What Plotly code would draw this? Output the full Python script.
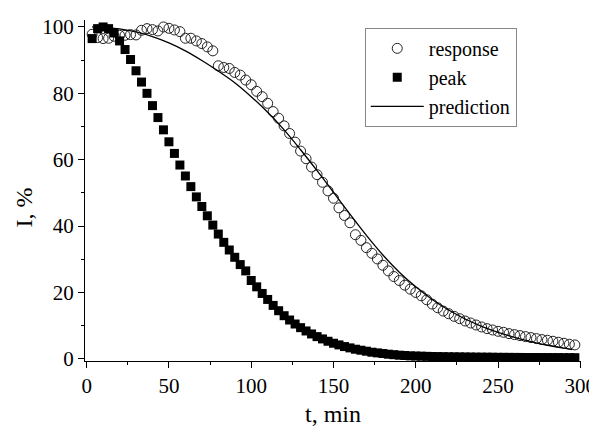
import plotly.graph_objects as go

# time grid (min), points every 200 s
t_points = [round(k * 10 / 3, 2) for k in range(1, 90)]

response = [97.8, 96.8, 96.5, 96.6, 97.2, 97.5, 97.5, 97.7, 97.6, 99.0,
            99.5, 99.2, 98.8, 100.0, 99.6, 99.1, 98.6, 96.6, 96.6, 95.8,
            95.0, 94.0, 92.8, 88.3, 87.8, 87.5, 86.3, 85.5, 84.0, 82.6,
            80.6, 79.0, 77.0, 74.5, 72.5, 70.2, 67.9, 65.3, 62.6, 60.3,
            57.8, 55.5, 53.2, 50.6, 48.4, 45.5, 43.2, 41.0, 37.4, 35.7,
            33.5, 31.8, 30.1, 28.2, 26.5, 24.8, 23.6, 22.2, 21.0, 20.0,
            19.0, 17.8, 16.5, 15.4, 14.4, 13.6, 12.8, 12.1, 11.4, 10.8,
            10.2, 9.6, 9.1, 8.7, 8.3, 8.0, 7.6, 7.3, 7.0, 6.7,
            6.4, 6.1, 5.8, 5.6, 5.3, 5.0, 4.7, 4.4, 4.2]

peak = [96.5, 99.5, 100.0, 99.5, 98.2, 95.8, 93.2, 90.2, 86.8, 83.4,
        80.0, 76.3, 72.7, 69.0, 65.4, 61.9, 58.4, 55.1, 51.9, 48.8,
        45.9, 43.1, 40.3, 37.6, 35.1, 32.8, 30.6, 28.4, 26.5, 23.6,
        21.7, 19.7, 17.9, 16.1, 14.5, 13.0, 11.7, 10.5, 9.4, 8.4,
        7.5, 6.7, 6.0, 5.3, 4.7, 4.2, 3.7, 3.3, 2.9, 2.6,
        2.3, 2.0, 1.8, 1.6, 1.4, 1.25, 1.1, 1.0, 0.9, 0.85,
        0.8, 0.75, 0.7, 0.68, 0.65, 0.62, 0.6, 0.58, 0.56, 0.54,
        0.52, 0.5, 0.5, 0.48, 0.46, 0.45, 0.44, 0.43, 0.42, 0.41,
        0.4, 0.4, 0.39, 0.38, 0.38, 0.37, 0.36, 0.36, 0.35]

t_pred = [3.3, 10, 20, 30, 40, 50, 60, 70, 80, 90, 100, 110, 120, 130, 140,
          150, 160, 170, 180, 190, 200, 210, 220, 230, 240, 250, 260, 270,
          280, 290, 295]
prediction = [100.0, 99.9, 99.4, 98.5, 97.1, 95.2, 92.8, 89.9, 86.7, 83.2,
              79.0, 74.3, 69.0, 63.0, 56.7, 50.2, 43.6, 37.2, 31.3, 26.1,
              21.7, 17.9, 14.7, 12.0, 9.8, 8.0, 6.5, 5.2, 4.1, 3.2, 2.8]

x_ticks = [0, 50, 100, 150, 200, 250, 300]
y_ticks = [0, 20, 40, 60, 80, 100]

FONT = "Liberation Serif"

fig = go.Figure()
fig.add_trace(go.Scatter(
    x=t_points, y=response, mode="markers", name="response",
    marker=dict(symbol="circle-open", size=10, color="#222",
                line=dict(width=1, color="#222"))))
fig.add_trace(go.Scatter(
    x=t_points, y=peak, mode="markers", name="peak",
    marker=dict(symbol="square", size=9, color="black",
                line=dict(width=0))))
fig.add_trace(go.Scatter(
    x=t_pred, y=prediction, mode="lines", name="prediction",
    line=dict(color="black", width=1.3, shape="spline")))

fig.update_layout(
    width=597, height=430,
    margin=dict(l=77, r=24, t=7, b=77),
    paper_bgcolor="white", plot_bgcolor="white",
    font=dict(family=FONT, color="black"),
    showlegend=True,
    legend=dict(x=0.564, y=0.977, xanchor="left", yanchor="top",
                bgcolor="white", bordercolor="#888", borderwidth=1,
                font=dict(size=20, family=FONT), itemwidth=53,
                tracegroupgap=0),
    xaxis=dict(range=[-1, 300.4], tickvals=x_ticks, ticks="outside",
               ticklen=6, tickwidth=1, tickcolor="black",
               showline=True, linecolor="black", linewidth=1.3,
               showgrid=False, zeroline=False,
               tickfont=dict(size=21, family=FONT),
               minor=dict(tickvals=[25, 75, 125, 175, 225, 275],
                          ticks="outside", ticklen=3, tickcolor="black")),
    yaxis=dict(range=[-0.65, 102.1], tickvals=y_ticks, ticks="outside",
               ticklen=6, tickwidth=1, tickcolor="black",
               showline=True, linecolor="black", linewidth=1.3,
               showgrid=False, zeroline=False,
               tickfont=dict(size=21, family=FONT),
               minor=dict(tickvals=[10, 30, 50, 70, 90],
                          ticks="outside", ticklen=3, tickcolor="black")),
    annotations=[
        dict(text="t, min", xref="paper", yref="paper", x=0.5, y=0,
             xanchor="center", yanchor="middle", yshift=-53,
             showarrow=False, font=dict(size=24, family=FONT)),
        dict(text="I, %", xref="paper", yref="paper", x=0, y=0.45,
             xanchor="center", yanchor="middle", xshift=-61, textangle=-90,
             showarrow=False, font=dict(size=24, family=FONT)),
    ],
)

fig.write_html("out.html")
